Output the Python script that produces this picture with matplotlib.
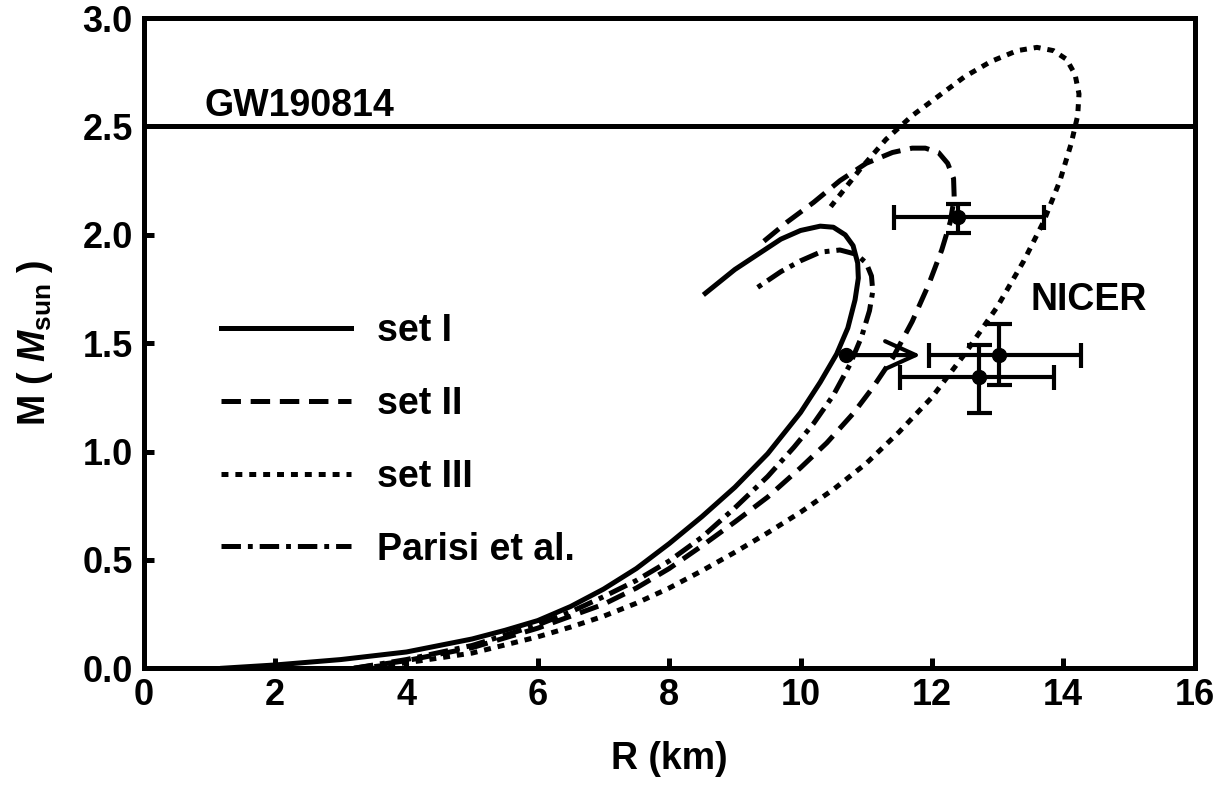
import matplotlib
matplotlib.use('Agg')
import matplotlib.pyplot as plt

plt.rcParams['font.family'] = ['Liberation Sans', 'DejaVu Sans']
plt.rcParams['font.weight'] = 'bold'
plt.rcParams['mathtext.fontset'] = 'custom'
plt.rcParams['mathtext.rm'] = 'Liberation Sans:bold'
plt.rcParams['mathtext.it'] = 'Liberation Sans:italic:bold'
plt.rcParams['mathtext.bf'] = 'Liberation Sans:bold'
plt.rcParams['lines.scale_dashes'] = False

# mass-radius curves (R in km, M in Msun)
r_set1 = [1.2, 2.0, 3.0, 4.0, 5.0, 5.5, 6.0, 6.5, 7.0, 7.5, 8.0, 8.5, 9.0, 9.5, 10.0,
          10.3, 10.55, 10.72, 10.83, 10.88, 10.87, 10.8, 10.68, 10.5, 10.3, 10.0,
          9.7, 9.4, 9.0, 8.55]
m_set1 = [0.0, 0.015, 0.04, 0.075, 0.135, 0.175, 0.22, 0.285, 0.365, 0.46, 0.575, 0.70,
          0.835, 0.99, 1.18, 1.32, 1.45, 1.57, 1.70, 1.80, 1.87, 1.95, 2.00, 2.035,
          2.04, 2.02, 1.98, 1.92, 1.84, 1.73]

r_set2 = [3.2, 4.0, 5.0, 6.0, 6.5, 7.0, 7.5, 8.0, 8.5, 9.0, 9.5, 10.0, 10.4, 10.8, 11.1,
          11.4, 11.7, 11.95, 12.15, 12.28, 12.34, 12.33, 12.24, 12.1, 11.9, 11.7, 11.4,
          11.0, 10.6, 10.2, 9.8, 9.4]
m_set2 = [0.0, 0.035, 0.095, 0.185, 0.24, 0.295, 0.37, 0.46, 0.565, 0.675, 0.79, 0.925,
          1.04, 1.175, 1.295, 1.43, 1.60, 1.77, 1.93, 2.06, 2.17, 2.26, 2.33, 2.38, 2.40,
          2.40, 2.38, 2.33, 2.25, 2.15, 2.06, 1.96]

r_set3 = [3.3, 4.0, 5.0, 6.0, 6.5, 7.0, 7.5, 8.0, 8.5, 9.0, 9.5, 10.0, 10.5, 11.0, 11.5,
          12.0, 12.5, 13.0, 13.4, 13.7, 13.95, 14.12, 14.22, 14.24, 14.18, 14.05, 13.85,
          13.6, 13.3, 12.9, 12.5, 12.1, 11.7, 11.3, 10.9, 10.46]
m_set3 = [0.0, 0.025, 0.07, 0.145, 0.19, 0.24, 0.30, 0.37, 0.45, 0.535, 0.625, 0.72,
          0.825, 0.945, 1.09, 1.25, 1.45, 1.67, 1.88, 2.06, 2.25, 2.42, 2.55, 2.65, 2.74,
          2.81, 2.85, 2.865, 2.85, 2.80, 2.73, 2.64, 2.55, 2.44, 2.30, 2.13]

r_parisi = [3.2, 4.0, 5.0, 6.0, 6.5, 7.0, 7.5, 8.0, 8.5, 9.0, 9.5, 9.9, 10.2, 10.5,
            10.75, 10.93, 11.05, 11.1, 11.08, 11.0, 10.85, 10.6, 10.3, 10.0, 9.7, 9.31]
m_parisi = [0.0, 0.04, 0.105, 0.20, 0.26, 0.33, 0.405, 0.495, 0.605, 0.74, 0.885, 1.02,
            1.13, 1.26, 1.40, 1.53, 1.65, 1.74, 1.81, 1.87, 1.91, 1.93, 1.92, 1.88, 1.83,
            1.75]

# NICER / pulsar constraints
pts_r = [12.39, 13.02, 12.72]
pts_m = [2.08, 1.445, 1.343]
pts_xlo = [0.97, 1.07, 1.20]
pts_xhi = [1.31, 1.25, 1.14]
pts_ylo = [0.07, 0.14, 0.163]
pts_yhi = [0.06, 0.145, 0.147]

arrow_start = (10.69, 1.445)
arrow_end = (11.83, 1.445)

gw_mass = 2.5

fig = plt.figure(figsize=(12.29, 7.88), dpi=100)
ax = fig.add_axes([0.117, 0.152, 0.855, 0.825])

lw = 3.6
ax.plot(r_set1, m_set1, color='black', lw=lw, linestyle='-', label='set I')
ax.plot(r_set2, m_set2, color='black', lw=lw, linestyle=(0, (14, 7)), label='set II')
ax.plot(r_set3, m_set3, color='black', lw=lw, linestyle=(0, (5, 5)), label='set III')
ax.plot(r_parisi, m_parisi, color='black', lw=lw, linestyle=(0, (14, 5, 3.5, 5)),
        label='Parisi et al.')

ax.axhline(gw_mass, color='black', lw=3.6)
ax.text(0.93, 2.55, 'GW190814', fontsize=27, fontweight='bold', va='baseline')

ax.errorbar(pts_r, pts_m, xerr=[pts_xlo, pts_xhi], yerr=[pts_ylo, pts_yhi],
            fmt='o', color='black', ms=10, elinewidth=3, capsize=9, capthick=3)
ax.plot([arrow_start[0]], [arrow_start[1]], 'o', color='black', ms=10)
ax.annotate('', xy=arrow_end, xytext=arrow_start,
            arrowprops=dict(arrowstyle='->,head_length=1.1,head_width=0.5',
                            color='black', lw=3, mutation_scale=20,
                            shrinkA=0, shrinkB=0))
ax.text(13.5, 1.652, 'NICER', fontsize=27, fontweight='bold', va='baseline')

ax.set_xlim(0, 16)
ax.set_ylim(0, 3.0)
ax.set_xticks(range(0, 17, 2))
ax.set_yticks([0.0, 0.5, 1.0, 1.5, 2.0, 2.5, 3.0])
ax.set_yticklabels(['0.0', '0.5', '1.0', '1.5', '2.0', '2.5', '3.0'])
ax.tick_params(direction='in', length=7, width=3.6, labelsize=26, pad=8)
ax.tick_params(axis='x', pad=7)
for sp in ax.spines.values():
    sp.set_linewidth(3.6)

ax.set_xlabel('R (km)', fontsize=27, fontweight='bold', labelpad=20)
ax.set_ylabel(r'M ( $M_{\mathrm{sun}}$ )', fontsize=27, fontweight='bold', labelpad=20)

ax.legend(loc='upper left', bbox_to_anchor=(0.0733, 0.546), frameon=False,
          fontsize=27, handlelength=3.47, handletextpad=0.69, labelspacing=0.98,
          borderpad=0, borderaxespad=0)

fig.savefig('out.png', dpi=100)
